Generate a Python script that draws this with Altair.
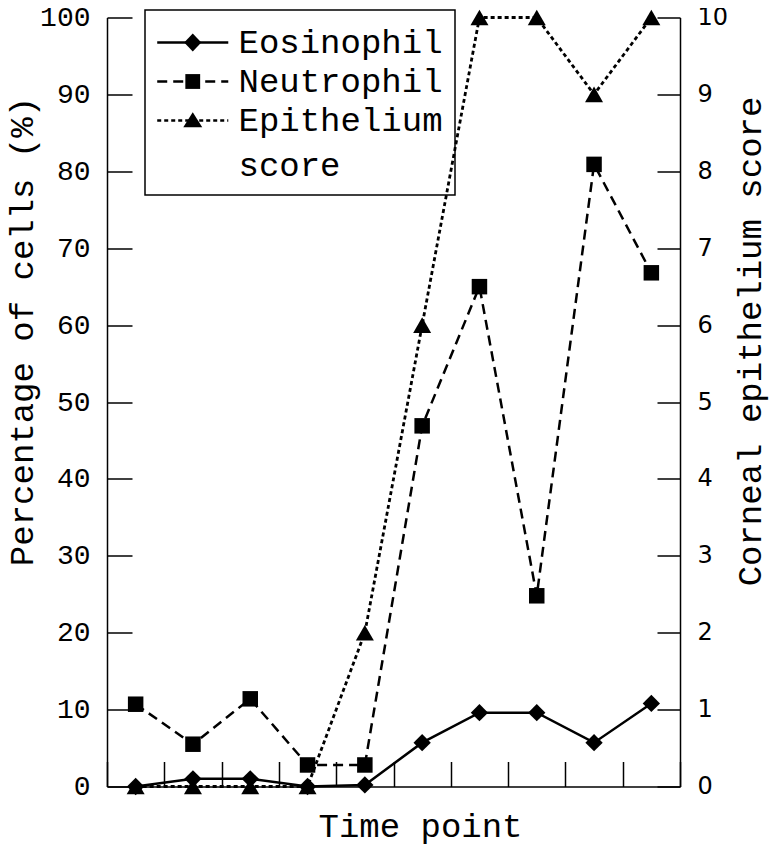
import altair as alt
import pandas as pd

# ---- data ----
time_points = [1, 2, 3, 4, 5, 6, 7, 8, 9, 10]
eosinophil = [0, 1, 1, 0, 0.2, 5.7, 9.6, 9.6, 5.7, 10.8]
neutrophil = [10.7, 5.5, 11.4, 2.8, 2.8, 46.9, 65.0, 24.8, 80.9, 66.8]
epithelium = [0, 0, 0, 0, 2, 6, 10, 10, 9, 10]
series_names = ["Eosinophil", "Neutrophil", "Epithelium score"]
line_legend_keys = ["Eosinophil ", "Neutrophil ", "Epithelium score "]  # distinct domain, blank labels
left_ticks = [0, 10, 20, 30, 40, 50, 60, 70, 80, 90, 100]
right_ticks = [0, 1, 2, 3, 4, 5, 6, 7, 8, 9, 10]

pct = pd.DataFrame({
    "t": time_points * 2,
    "series": ["Eosinophil"] * len(time_points) + ["Neutrophil"] * len(time_points),
    "value": eosinophil + neutrophil,
})
epi = pd.DataFrame({"t": time_points, "series": "Epithelium score", "value": epithelium})

MONO = "Liberation Mono"
SYM_SIZE = 1444  # unit of custom legend paths = 19 px

# legend symbols (custom paths, unit = 19 px)
sym_line = "M-1.87,0L1.87,0"
sym_diamond = "M0,-0.47L0.45,0L0,0.47L-0.45,0Z"
sym_square = "M-0.39,-0.39L0.39,-0.39L0.39,0.39L-0.39,0.39Z"
sym_triangle = "M0,-0.44L0.5,0.36L-0.5,0.36Z"

LABEL_EXPR = "datum.label == 'Epithelium score' ? ['Epithelium', 'score'] : datum.label"

x_enc = alt.X(
    "t:O",
    scale=alt.Scale(type="band", paddingInner=0, paddingOuter=0),
    axis=alt.Axis(
        title="Time point", labels=False, tickSize=alt.ExprRef(expr="-25"),
        tickBand="extent", titleX=313, titleY=39.5, titleAngle=0,
        titleAlign="center", titleBaseline="middle",
    ),
)

y_left = alt.Y(
    "value:Q",
    scale=alt.Scale(domain=[0, 100], nice=False),
    axis=alt.Axis(
        orient="left", values=left_ticks, tickSize=alt.ExprRef(expr="-25"),
        labelPadding=42, labelFont=MONO, labelFontSize=28,
        title="Percentage of cells (%)", titleX=-85, titleY=313.5,
        titleAngle=-90, titleAlign="center", titleBaseline="middle",
    ),
)

y_right = alt.Y(
    "value:Q",
    scale=alt.Scale(domain=[0, 10], nice=False),
    axis=alt.Axis(
        orient="right", values=right_ticks, tickSize=alt.ExprRef(expr="-23"),
        labelPadding=40, labelFont="DejaVu Sans", labelFontSize=24,
        title="Corneal epithelium score", titleX=70, titleY=323.5,
        titleAngle=-90, titleAlign="center", titleBaseline="middle",
    ),
)

common_legend = dict(
    title=None, orient="none", legendX=38, legendY=-7.5,
    symbolSize=SYM_SIZE, symbolOffset=15.25, labelOffset=25.25,
    labelFont=MONO, labelFontSize=34, labelBaseline="middle", labelLimit=600,
    padding=12, rowPadding=1, symbolStrokeWidth=2.5,
)

# legend with markers + labels + frame
legend_markers = alt.Chart(pct).transform_filter("false").transform_calculate(
    s2="datum.series"
).mark_point(filled=True, color="black", opacity=1, size=SYM_SIZE).encode(
    x=x_enc, y=y_left,
    shape=alt.Shape("s2:N", scale=alt.Scale(domain=series_names,
                    range=[sym_diamond, sym_square, sym_triangle]),
                    legend=alt.Legend(strokeColor="black", symbolFillColor="black",
                                      labelColor="black", labelExpr=LABEL_EXPR,
                                      **common_legend)),
)

# legend with the line styles only (blank labels, same row layout)
legend_lines = alt.Chart(pct).transform_filter("false").mark_line(
    color="black", strokeWidth=2.5
).encode(
    x=x_enc, y=y_left,
    strokeDash=alt.StrokeDash("series:N", scale=alt.Scale(domain=line_legend_keys,
                    range=[[1, 0], [10, 6], [4, 3]]),
                    legend=alt.Legend(symbolType=sym_line, symbolStrokeColor="black",
                                      labelExpr="' '", labelOpacity=0, **common_legend)),
)

base_l = alt.Chart(pct)
neut_line = base_l.transform_filter("datum.series == 'Neutrophil'").mark_line(
    color="black", strokeWidth=2.5, strokeDash=[10, 6]).encode(x=x_enc, y=y_left)
neut_pts = base_l.transform_filter("datum.series == 'Neutrophil'").mark_point(
    shape="square", filled=True, color="black", size=240, opacity=1).encode(x=x_enc, y=y_left)
eos_line = base_l.transform_filter("datum.series == 'Eosinophil'").mark_line(
    color="black", strokeWidth=2.5).encode(x=x_enc, y=y_left)
eos_pts = base_l.transform_filter("datum.series == 'Eosinophil'").mark_point(
    shape="diamond", filled=True, color="black", size=300, opacity=1).encode(x=x_enc, y=y_left)

left_layer = alt.layer(legend_lines, legend_markers, neut_line, neut_pts, eos_line, eos_pts)

base_r = alt.Chart(epi)
epi_line = base_r.mark_line(color="black", strokeWidth=2.8, strokeDash=[4, 3]).encode(x=x_enc, y=y_right)
epi_pts = base_r.mark_point(shape="triangle-up", filled=True, color="black",
                            size=324, opacity=1).encode(x=x_enc, y=y_right)
right_layer = alt.layer(epi_line, epi_pts)

chart = alt.layer(right_layer, left_layer).resolve_scale(y="independent").properties(
    width=573, height=769,
    autosize=alt.AutoSizeParams(type="none"),
    padding={"left": 99, "top": 9.5, "right": 90, "bottom": 58.5},
).configure_view(strokeWidth=0).configure_axis(
    grid=False, domainColor="black", domainWidth=1.5, tickColor="black", tickWidth=1.5,
    labelColor="black", titleColor="black", titleFont=MONO, titleFontSize=34,
    titleFontWeight="normal",
).configure_legend(strokeWidth=1.5)
chart.config.style = {"guide-label": {"lineHeight": 45}}

chart.save("out.html", embed_options={"renderer": "svg", "actions": False})
